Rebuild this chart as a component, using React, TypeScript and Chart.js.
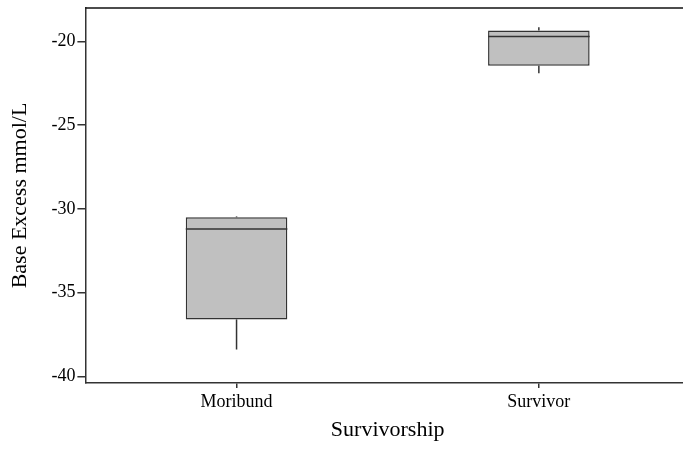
import React, { useEffect, useRef } from 'react';
import { Chart, registerables } from 'chart.js';

Chart.register(...registerables);

const categories = ['Moribund', 'Survivor'];
const q1Values = [-36.6, -21.45];
const q3Values = [-30.5, -19.35];
const medianValues = [-31.2, -19.7];
const minValues = [-38.4, -21.9];
const maxValues = [-30.45, -19.15];
const yTickValues = [-40, -35, -30, -25, -20];

const FONT = "'Liberation Serif', 'Times New Roman', serif";
const LINE = '#333333';

const boxPlugin = {
  id: 'boxExtras',
  afterDatasetsDraw(chart: any) {
    const ctx = chart.ctx;
    const xs = chart.scales.x;
    const ys = chart.scales.y;
    const meta = chart.getDatasetMeta(0);
    ctx.save();
    ctx.strokeStyle = LINE;
    ctx.lineWidth = 1.5;
    categories.forEach((_, i) => {
      const bar = meta.data[i];
      const cx = xs.getPixelForValue(i);
      const half = bar.width / 2;
      const seg = (x1: number, y1: number, x2: number, y2: number) => {
        ctx.beginPath();
        ctx.moveTo(x1, y1);
        ctx.lineTo(x2, y2);
        ctx.stroke();
      };
      seg(cx, ys.getPixelForValue(q3Values[i]), cx, ys.getPixelForValue(maxValues[i]));
      seg(cx, ys.getPixelForValue(q1Values[i]), cx, ys.getPixelForValue(minValues[i]));
      const my = ys.getPixelForValue(medianValues[i]);
      seg(cx - half, my, cx + half, my);
    });
    const a = chart.chartArea;
    ctx.strokeStyle = '#111';
    ctx.beginPath();
    ctx.moveTo(a.left, a.top);
    ctx.lineTo(a.right, a.top);
    ctx.stroke();
    ctx.restore();
  },
};

export default function App() {
  const ref = useRef<HTMLCanvasElement | null>(null);
  useEffect(() => {
    if (!ref.current) return;
    const chart = new Chart(ref.current, {
      type: 'bar',
      data: {
        labels: categories,
        datasets: [
          {
            data: categories.map((_, i) => [q1Values[i], q3Values[i]]) as any,
            backgroundColor: '#c0c0c0',
            borderColor: LINE,
            borderWidth: 1.5,
            borderSkipped: false,
            barPercentage: 0.336,
            categoryPercentage: 1,
          },
        ],
      },
      options: {
        animation: false,
        responsive: false,
        maintainAspectRatio: false,
        layout: { padding: { left: 7, right: 0, top: 8, bottom: 8 } },
        plugins: { legend: { display: false }, tooltip: { enabled: false } },
        scales: {
          x: {
            type: 'category',
            offset: true,
            grid: {
              display: true,
              drawOnChartArea: false,
              drawTicks: true,
              tickLength: 5,
              offset: false,
              color: LINE,
              lineWidth: 1.5,
            },
            border: { color: LINE, width: 1.5 },
            ticks: { color: '#000', font: { family: FONT, size: 18 }, padding: 3 },
            title: {
              display: true,
              text: 'Survivorship',
              color: '#000',
              font: { family: FONT, size: 22 },
              padding: { top: 1, bottom: 0 },
            },
          },
          y: {
            type: 'linear',
            min: -40.4,
            max: -18,
            afterBuildTicks: (axis: any) => {
              axis.ticks = yTickValues.map((v) => ({ value: v }));
            },
            afterFit: (axis: any) => {
              axis.paddingTop = 0;
              axis.paddingBottom = 0;
            },
            grid: {
              display: true,
              drawOnChartArea: false,
              drawTicks: true,
              tickLength: 8,
              color: LINE,
              lineWidth: 1.5,
            },
            border: { color: LINE, width: 1.5 },
            ticks: { color: '#000', font: { family: FONT, size: 18 }, padding: 2 },
            title: {
              display: true,
              text: 'Base Excess mmol/L',
              color: '#000',
              font: { family: FONT, size: 22 },
              padding: { top: 0, bottom: 16 },
            },
          },
        },
      },
      plugins: [boxPlugin],
    });
    return () => chart.destroy();
  }, []);
  return (
    <div
      style={{
        position: 'fixed',
        left: 0,
        top: 0,
        width: 683,
        height: 451,
        overflow: 'hidden',
        background: '#fff',
      }}
    >
      <canvas ref={ref} width={690} height={451} style={{ display: 'block' }} />
    </div>
  );
}
